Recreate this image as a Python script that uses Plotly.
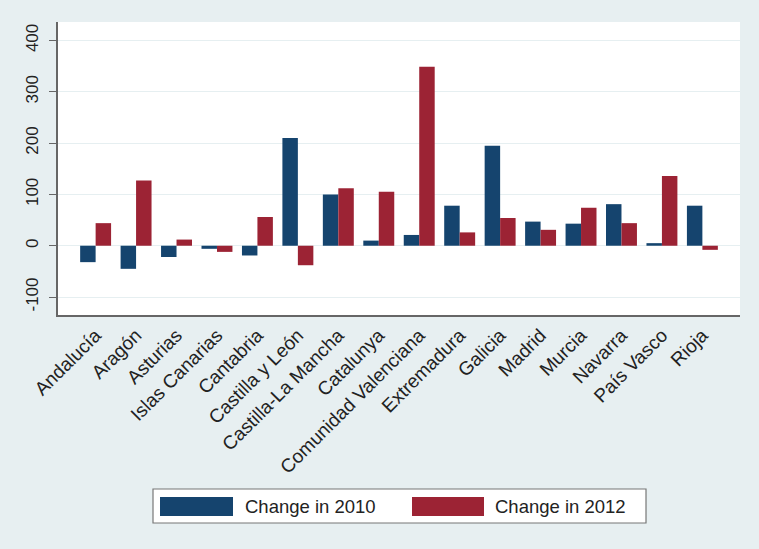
import plotly.graph_objects as go

regions = ["Andalucía", "Aragón", "Asturias", "Islas Canarias", "Cantabria",
           "Castilla y León", "Castilla-La Mancha", "Catalunya",
           "Comunidad Valenciana", "Extremadura", "Galicia", "Madrid",
           "Murcia", "Navarra", "País Vasco", "Rioja"]
change_2010 = [-32, -45, -22, -6, -19, 210, 100, 10, 21, 78, 195, 47, 43, 81, 5, 78]
change_2012 = [44, 127, 12, -12, 56, -38, 112, 105, 349, 26, 54, 31, 74, 44, 136, -8]
y_ticks = [-100, 0, 100, 200, 300, 400]
y_tick_labels = ["-100", "0", "100", "200", "300", "400"]
series_names = ["Change in 2010", "Change in 2012"]

BLUE = "#15446e"
RED = "#9c2334"
BG = "#e7eff1"
FONT = "Liberation Sans, Arial, sans-serif"

fig = go.Figure()
fig.add_trace(go.Bar(x=regions, y=change_2010, name=series_names[0],
                     marker=dict(color=BLUE, line=dict(width=0)), showlegend=False))
fig.add_trace(go.Bar(x=regions, y=change_2012, name=series_names[1],
                     marker=dict(color=RED, line=dict(width=0)), showlegend=False))

# plot area pixel geometry
W, H = 759, 549
L, R, T, B = 58, 740, 22, 315


def px(x):
    return (x - L) / (R - L)


def py(y):
    return (B - y) / (B - T)


shapes = [
    dict(type="rect", xref="paper", yref="paper", x0=px(153), x1=px(646),
         y0=py(523), y1=py(489), fillcolor="white",
         line=dict(color="#777777", width=1.2), layer="above"),
    dict(type="rect", xref="paper", yref="paper", x0=px(160), x1=px(233),
         y0=py(516), y1=py(497), fillcolor=BLUE, line=dict(width=0), layer="above"),
    dict(type="rect", xref="paper", yref="paper", x0=px(412), x1=px(484),
         y0=py(516), y1=py(497), fillcolor=RED, line=dict(width=0), layer="above"),
]
annotations = [
    dict(xref="paper", yref="paper", x=px(243), y=py(506.5), xanchor="left",
         yanchor="middle", text=series_names[0], showarrow=False,
         font=dict(family=FONT, size=18.5, color="#222222")),
    dict(xref="paper", yref="paper", x=px(493), y=py(506.5), xanchor="left",
         yanchor="middle", text=series_names[1], showarrow=False,
         font=dict(family=FONT, size=18.5, color="#222222")),
]

fig.update_layout(
    width=W, height=H,
    margin=dict(l=L, r=W - R, t=T, b=H - B, pad=0),
    paper_bgcolor=BG, plot_bgcolor="white",
    barmode="group", bargap=0.235, bargroupgap=0,
    font=dict(family=FONT, size=16, color="#222222"),
    shapes=shapes, annotations=annotations,
    xaxis=dict(range=[-0.93, 15.93], tickangle=-45, showgrid=False,
               showline=True, linecolor="#666666", linewidth=1.5,
               ticks="", tickfont=dict(size=19), zeroline=False),
    yaxis=dict(range=[-135, 436], tickvals=y_ticks, ticktext=y_tick_labels,
               tickangle=-90,
               showgrid=True, gridcolor="#e6eff1", gridwidth=1.2,
               zeroline=False, showline=True, linecolor="#666666",
               linewidth=1.5, ticks="outside", ticklen=7, tickcolor="#666666",
               tickwidth=1.2, tickfont=dict(size=17), ticklabelstandoff=4),
)

fig.write_html("out.html")
